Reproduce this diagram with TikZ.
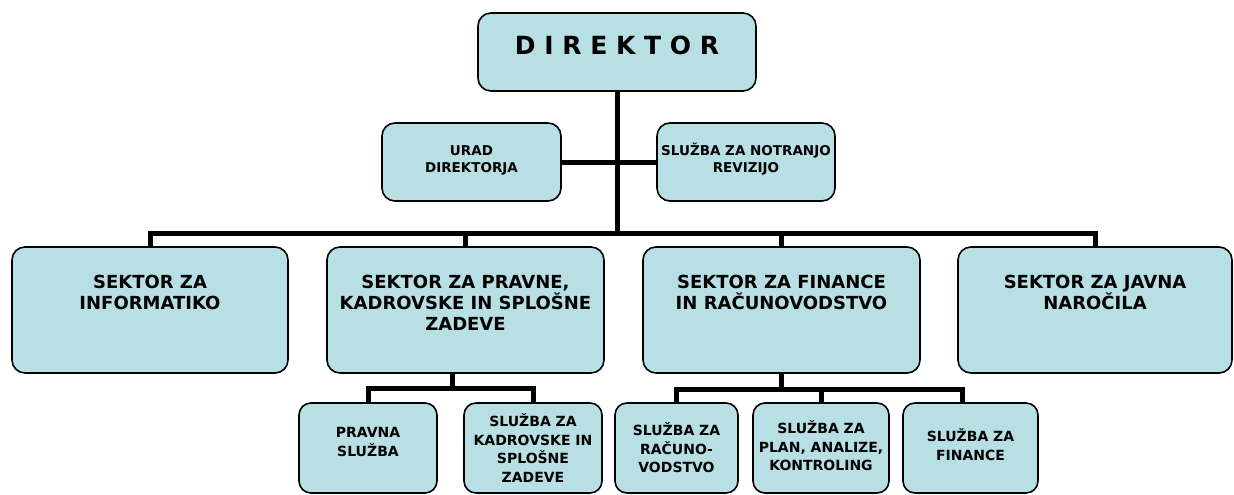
\documentclass[tikz,border=0pt]{standalone}
\usepackage{fontspec}
\setmainfont{DejaVu Sans}
\pgfdeclarelayer{background}
\pgfsetlayers{background,main}
\definecolor{boxfill}{RGB}{184,223,227}
\newcommand{\fl}{\rule{0pt}{1em}}
\tikzset{
  orgbox/.style={draw=black, line width=1.6pt, fill=boxfill, rounded corners=13pt, inner sep=0pt},
  conn/.style={draw=black, line width=5pt},
  txt/.style={inner sep=0pt, align=center, anchor=north},
  bigtxt/.style={txt, font=\fontsize{25}{30}\selectfont\bfseries},
  sectxt/.style={txt, font=\fontsize{18}{21}\selectfont\bfseries},
  midtxt/.style={txt, font=\fontsize{13.5}{17}\selectfont\bfseries},
  subtxt/.style={txt, font=\fontsize{14}{18.7}\selectfont\bfseries}
}
\begin{document}
\begin{tikzpicture}[x=1pt,y=-1pt]
\useasboundingbox (0,0) rectangle (1234,495);
% boxes
\node[orgbox, minimum width=278, minimum height=78] (dir) at (617,52) {};
\node[orgbox, minimum width=179, minimum height=78] (urad) at (471.5,162) {};
\node[orgbox, minimum width=178, minimum height=78] (rev) at (746,162) {};
\node[orgbox, minimum width=276, minimum height=126] (s1) at (150,310) {};
\node[orgbox, minimum width=277, minimum height=126] (s2) at (465.5,310) {};
\node[orgbox, minimum width=277, minimum height=126] (s3) at (781.5,310) {};
\node[orgbox, minimum width=274, minimum height=126] (s4) at (1095,310) {};
\node[orgbox, rounded corners=12pt, minimum width=138, minimum height=90] (p1) at (368,448) {};
\node[orgbox, rounded corners=12pt, minimum width=138, minimum height=90] (p2) at (533,448) {};
\node[orgbox, rounded corners=12pt, minimum width=123, minimum height=90] (f1) at (676.5,448) {};
\node[orgbox, rounded corners=12pt, minimum width=136, minimum height=90] (f2) at (821,448) {};
\node[orgbox, rounded corners=12pt, minimum width=135, minimum height=90] (f3) at (970.5,448) {};
% texts
\node[bigtxt] (dirt) at (617,29.1) {\fl D I R E K T O R};
\node[midtxt] (uradt) at (471.5,141.4) {\fl URAD\\DIREKTORJA};
\node[midtxt] (revt) at (746,141.4) {\fl SLUŽBA ZA NOTRANJO\\REVIZIJO};
\node[sectxt] (s1t) at (150,270.6) {\fl SEKTOR ZA\\INFORMATIKO};
\node[sectxt] (s2t) at (465.5,270.6) {\fl SEKTOR ZA PRAVNE,\\KADROVSKE IN SPLOŠNE\\ZADEVE};
\node[sectxt] (s3t) at (781.5,270.6) {\fl SEKTOR ZA FINANCE\\IN RAČUNOVODSTVO};
\node[sectxt] (s4t) at (1095,270.6) {\fl SEKTOR ZA JAVNA\\NAROČILA};
\node[subtxt] (p1t) at (368,423.1) {\fl PRAVNA\\SLUŽBA};
\node[subtxt] (p2t) at (533,412.1) {\fl SLUŽBA ZA\\KADROVSKE IN\\SPLOŠNE\\ZADEVE};
\node[subtxt] (f1t) at (676.5,421.1) {\fl SLUŽBA ZA\\RAČUNO-\\VODSTVO};
\node[subtxt] (f2t) at (821,419.1) {\fl SLUŽBA ZA\\PLAN, ANALIZE,\\KONTROLING};
\node[subtxt] (f3t) at (970.5,427.1) {\fl SLUŽBA ZA\\FINANCE};
% hubs
\coordinate (hub) at (617,233);
\coordinate (h2) at (452,388);
\coordinate (h3) at (781.5,389);
\begin{pgfonlayer}{background}
\draw[conn] (dir.south) -- (hub);
\draw[conn] (urad.east) -- (rev.west);
\draw[conn] (s1.north) |- (hub) -| (s4.north);
\draw[conn] (s2.north) -- (s2.north |- hub);
\draw[conn] (s3.north) -- (s3.north |- hub);
\draw[conn] (s2.south -| h2) -- (h2);
\draw[conn] (p1.north) |- (h2) -| (p2.north);
\draw[conn] (s3.south) -- (h3);
\draw[conn] (f1.north) |- (h3) -| ([xshift=-8pt]f3.north);
\draw[conn] (f2.north) -- (f2.north |- h3);
\end{pgfonlayer}
\end{tikzpicture}
\end{document}
